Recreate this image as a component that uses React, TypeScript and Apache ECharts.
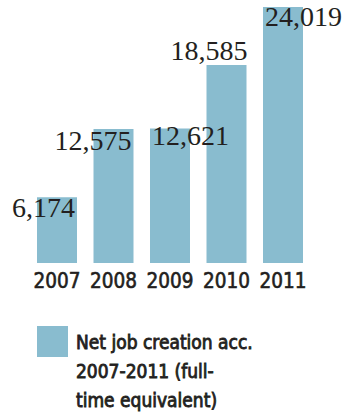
import React, { useEffect, useRef } from "react";
import * as echarts from "echarts";

const years = ["2007", "2008", "2009", "2010", "2011"];
const netJobs = [6174, 12575, 12621, 18585, 24019];
const seriesName = "Net job creation acc.\n2007-2011 (full-\ntime equivalent)";

// label placement relative to each bar's top-left corner
const labelPlacement: { x: number; y: number; align: "left" | "right" }[] = [
  { x: 38, y: 10, align: "right" },
  { x: 38, y: 12, align: "right" },
  { x: 2, y: 7, align: "left" },
  { x: 41, y: -14, align: "right" },
  { x: 2, y: 9, align: "left" },
];

const BAR = "#89bccf";
const INK = "#231f20";
const SANS = "'Liberation Sans Narrow', 'DejaVu Sans Condensed', sans-serif";

export default function App() {
  const ref = useRef<HTMLDivElement>(null);
  useEffect(() => {
    if (!ref.current) return;
    const chart = echarts.init(ref.current, undefined, { renderer: "svg" });
    chart.setOption({
      animation: false,
      grid: { left: 28.75, right: 40.75, top: 7, bottom: 156 },
      xAxis: {
        type: "category",
        data: years,
        axisLine: { show: false },
        axisTick: { show: false },
        axisLabel: {
          interval: 0,
          margin: 7,
          fontFamily: SANS,
          fontSize: 20.5,
          color: INK,
          textBorderColor: INK,
          textBorderWidth: 0.6,
        },
      },
      yAxis: {
        type: "value",
        min: 0,
        max: 24019,
        show: false,
        splitLine: { show: false },
      },
      legend: {
        left: 37,
        top: 269,
        padding: 0,
        itemWidth: 31,
        itemHeight: 31,
        icon: "rect",
        formatter: (name: string) => "\n\n" + name,
        textStyle: {
          fontFamily: SANS,
          fontSize: 19,
          lineHeight: 29,
          color: INK,
          textBorderColor: INK,
          textBorderWidth: 0.8,
          padding: [0, 0, 0, 3],
        },
        data: [seriesName],
      },
      series: [
        {
          name: seriesName,
          type: "bar",
          barWidth: 40,
          itemStyle: { color: BAR },
          label: {
            show: true,
            fontFamily: "'Liberation Serif', 'DejaVu Serif', serif",
            fontSize: 28,
            color: INK,
            verticalAlign: "middle",
            formatter: (p: any) => Number(p.value).toLocaleString("en-US"),
          },
          data: netJobs.map((v, i) => ({
            value: v,
            label: {
              position: [labelPlacement[i].x, labelPlacement[i].y],
              align: labelPlacement[i].align,
            },
          })),
        },
      ],
    });
    return () => chart.dispose();
  }, []);
  return (
    <div
      ref={ref}
      style={{ position: "fixed", left: 0, top: 0, width: 352, height: 419, background: "#fff" }}
    />
  );
}
